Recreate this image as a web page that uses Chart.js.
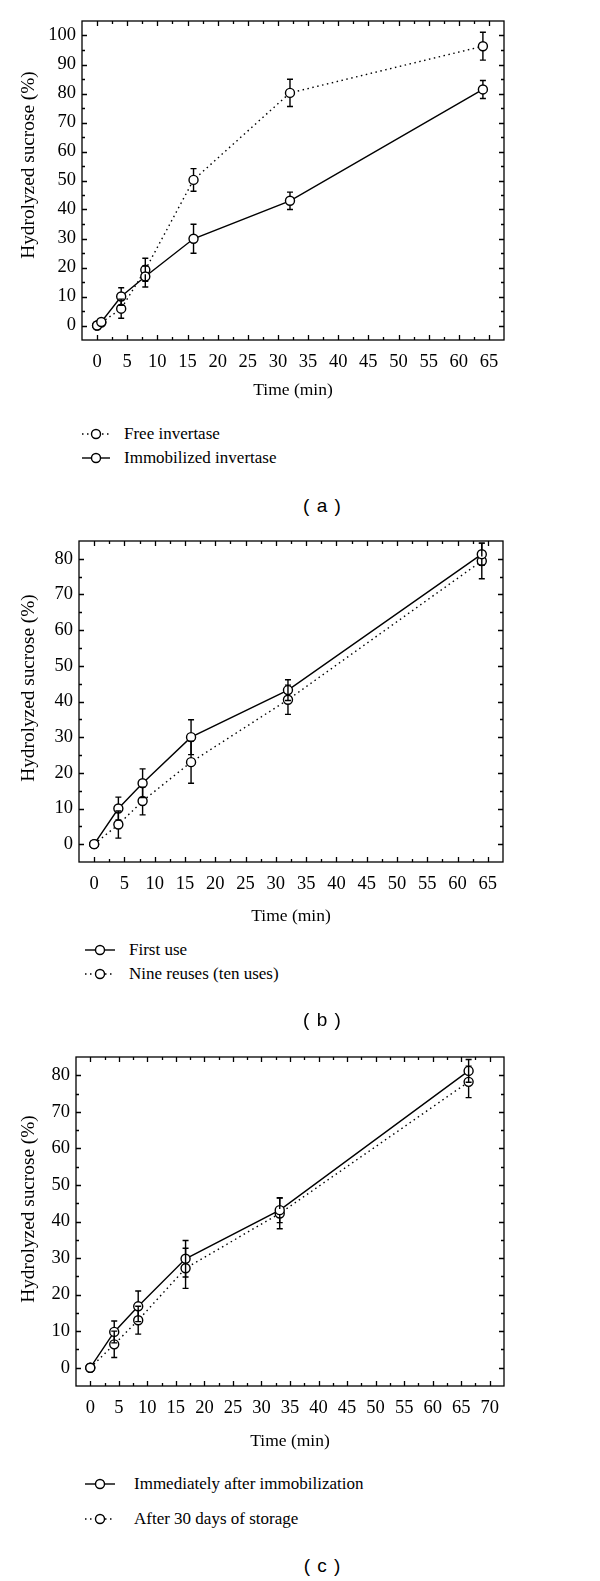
<!DOCTYPE html>
<html>
<head>
<meta charset="utf-8">
<script src="https://cdn.jsdelivr.net/npm/chart.js@4.4.0/dist/chart.umd.min.js"></script>
<style>
  html, body { margin:0; padding:0; background:#fff; }
  body { width:600px; height:1581px; position:relative; overflow:hidden; }
  canvas { position:absolute; left:0; }
  .leg { position:absolute; font-family:"Liberation Serif", serif; font-size:17px; color:#000; line-height:20px; white-space:nowrap; transform:translateY(-50%); }
  .sym { position:absolute; transform:translateY(-50%); }
  .cap { position:absolute; font-family:"Liberation Sans", Arial, sans-serif; font-size:19px; word-spacing:2px; color:#000; white-space:pre; transform:translate(-50%,-50%); line-height:22px; }
  .ytl { position:absolute; font-family:"Liberation Serif", serif; font-size:19.3px; color:#000; white-space:nowrap; line-height:22px; transform:translate(-50%,-50%) rotate(-90deg); }
</style>
</head>
<body>
<canvas id="ca" width="600" height="401" style="top:0px"></canvas>
<canvas id="cb" width="600" height="407" style="top:520px"></canvas>
<canvas id="cc" width="600" height="422" style="top:1030px"></canvas>

<script>
// ---------- DATA ----------
// Panel (a)
const aTime      = [0, 0.7, 4, 8, 16, 32, 64];
const aFree      = [0, 1.0, 5.8, 19.2, 50.2, 80.2, 96.3];
const aFreeErr   = [0, 0, 3.3, 4.0, 3.9, 4.7, 4.8];
const aImmob     = [0, 1.2, 10.0, 16.9, 29.9, 43.0, 81.4];
const aImmobErr  = [0, 0, 3.0, 3.6, 5.0, 3.0, 3.1];
const aXTicks    = [0,5,10,15,20,25,30,35,40,45,50,55,60,65];
const aYTicks    = [0,10,20,30,40,50,60,70,80,90,100];

// Panel (b)
const bTime      = [0, 4, 8, 16, 32, 64];
const bFirst     = [0, 10.0, 17.1, 30.0, 43.2, 81.3];
const bFirstErr  = [0, 3.2, 4.0, 4.9, 2.9, 3.1];
const bNine      = [0, 5.5, 12.1, 23.0, 40.5, 79.4];
const bNineErr   = [0, 3.8, 3.9, 5.9, 4.1, 5.0];
const bXTicks    = [0,5,10,15,20,25,30,35,40,45,50,55,60,65];
const bYTicks    = [0,10,20,30,40,50,60,70,80];

// Panel (c)
const cTime      = [0, 4.2, 8.4, 16.7, 33.2, 66.3];
const cImm       = [0, 9.8, 16.8, 29.8, 43.1, 81.2];
const cImmErr    = [0, 3.0, 4.2, 5.0, 3.4, 3.1];
const cStor      = [0, 6.4, 13.0, 27.2, 42.2, 78.2];
const cStorErr   = [0, 3.6, 3.8, 5.5, 4.2, 4.3];
const cXTicks    = [0,5,10,15,20,25,30,35,40,45,50,55,60,65,70];
const cYTicks    = [0,10,20,30,40,50,60,70,80];

const xTitle = 'Time (min)';
const yTitle = 'Hydrolyzed sucrose (%)';

// ---------- PLUGINS ----------
const MARK_R = 4.5;
const framePlugin = {
  id: 'frame',
  afterDatasetsDraw(chart) {
    const ctx = chart.ctx, xs = chart.scales.x, ys = chart.scales.y;
    ctx.save();
    ctx.strokeStyle = '#000';
    ctx.lineWidth = 1.4;
    ctx.setLineDash([]);
    chart.data.datasets.forEach(ds => {
      const errs = ds.errors || [];
      ds.data.forEach((p, i) => {
        const e = errs[i];
        if (!e) return;
        const px = xs.getPixelForValue(p.x);
        const py = ys.getPixelForValue(p.y);
        const top = ys.getPixelForValue(p.y + e);
        const bot = ys.getPixelForValue(p.y - e);
        ctx.beginPath();
        if (py - MARK_R > top) { ctx.moveTo(px, py - MARK_R); ctx.lineTo(px, top); }
        if (py + MARK_R < bot) { ctx.moveTo(px, py + MARK_R); ctx.lineTo(px, bot); }
        ctx.moveTo(px - 3, top); ctx.lineTo(px + 3, top);
        ctx.moveTo(px - 3, bot); ctx.lineTo(px + 3, bot);
        ctx.stroke();
      });
    });
    ctx.restore();
  },
  afterDraw(chart) {
    const ctx = chart.ctx, a = chart.chartArea, xs = chart.scales.x, ys = chart.scales.y;
    const xt = xs.ticks.map(t => t.value), yt = ys.ticks.map(t => t.value);
    const mids = arr => arr.slice(1).map((v, i) => (v + arr[i]) / 2);
    ctx.save();
    ctx.strokeStyle = '#000';
    ctx.lineWidth = 1.3;
    ctx.setLineDash([]);
    ctx.strokeRect(a.left, a.top, a.right - a.left, a.bottom - a.top);
    const MAJ = 5, MIN = 3;
    ctx.beginPath();
    const vx = (v, len) => {
      const p = Math.round(xs.getPixelForValue(v)) + 0.5;
      ctx.moveTo(p, a.bottom); ctx.lineTo(p, a.bottom - len);
      ctx.moveTo(p, a.top); ctx.lineTo(p, a.top + len);
    };
    const vy = (v, len) => {
      const p = Math.round(ys.getPixelForValue(v)) + 0.5;
      ctx.moveTo(a.left, p); ctx.lineTo(a.left + len, p);
      ctx.moveTo(a.right, p); ctx.lineTo(a.right - len, p);
    };
    xt.forEach(v => vx(v, MAJ));
    mids(xt).forEach(v => vx(v, MIN));
    yt.forEach(v => vy(v, MAJ));
    mids(yt).forEach(v => vy(v, MIN));
    ctx.stroke();
    ctx.restore();
  }
};

// ---------- CHART FACTORY ----------
const tickFont   = { family: 'Liberation Serif', size: 18.5 };
const xTitleFont = { family: 'Liberation Serif', size: 17.5 };

function series(times, vals, errs, dotted) {
  return {
    data: times.map((t, i) => ({ x: t, y: vals[i] })),
    errors: errs,
    borderColor: '#000',
    borderWidth: 1.4,
    borderDash: dotted ? [1.5, 3.5] : [],
    pointStyle: 'circle',
    pointRadius: MARK_R,
    pointBorderWidth: 1.4,
    pointBackgroundColor: '#fff',
    pointBorderColor: '#000',
    tension: 0,
    fill: false,
    clip: false
  };
}

function makeChart(id, p) {
  return new Chart(document.getElementById(id), {
    type: 'line',
    data: { datasets: p.datasets },
    options: {
      responsive: false,
      animation: false,
      events: [],
      layout: { padding: { top: p.padTop, right: 600 - p.right, left: 0, bottom: 0 } },
      plugins: { legend: { display: false }, tooltip: { enabled: false } },
      scales: {
        x: {
          type: 'linear', min: p.xMin, max: p.xMax,
          afterBuildTicks: s => { s.ticks = p.xTicks.map(v => ({ value: v })); },
          afterFit: s => { s.height = p.xH; },
          grid: { display: false, drawTicks: false },
          border: { display: false },
          ticks: { font: tickFont, color: '#000', padding: 11, autoSkip: false, maxRotation: 0 },
          title: { display: true, text: xTitle, font: xTitleFont, color: '#000', padding: 0 }
        },
        y: {
          type: 'linear', min: p.yMin, max: p.yMax,
          afterBuildTicks: s => { s.ticks = p.yTicks.map(v => ({ value: v })); },
          afterFit: s => { s.width = p.left; },
          grid: { display: false, drawTicks: false },
          border: { display: false },
          ticks: { font: tickFont, color: '#000', padding: 6, autoSkip: false },
          title: { display: false }
        }
      }
    },
    plugins: [framePlugin]
  });
}

makeChart('ca', {
  datasets: [series(aTime, aImmob, aImmobErr, false), series(aTime, aFree, aFreeErr, true)],
  left: 82, right: 504, padTop: 21, xH: 61,
  xMin: -2.5, xMax: 67.5, yMin: -5, yMax: 105, xTicks: aXTicks, yTicks: aYTicks
});
makeChart('cb', {
  datasets: [series(bTime, bFirst, bFirstErr, false), series(bTime, bNine, bNineErr, true)],
  left: 79, right: 503, padTop: 21, xH: 65,
  xMin: -2.5, xMax: 67.5, yMin: -5, yMax: 85, xTicks: bXTicks, yTicks: bYTicks
});
makeChart('cc', {
  datasets: [series(cTime, cImm, cImmErr, false), series(cTime, cStor, cStorErr, true)],
  left: 76, right: 504, padTop: 27, xH: 66,
  xMin: -2.5, xMax: 72.5, yMin: -5, yMax: 85, xTicks: cXTicks, yTicks: cYTicks
});

// ---------- TEXT: Y TITLES, LEGENDS & CAPTIONS ----------
function yTitleAt(x, y) {
  const d = document.createElement('div');
  d.className = 'ytl'; d.textContent = yTitle;
  d.style.left = x + 'px'; d.style.top = y + 'px';
  document.body.appendChild(d);
}
function legendItem(x0, w, tx, y, label, dotted) {
  const NS = 'http://www.w3.org/2000/svg';
  const svg = document.createElementNS(NS, 'svg');
  svg.setAttribute('width', w); svg.setAttribute('height', 14);
  svg.setAttribute('class', 'sym');
  svg.style.left = x0 + 'px'; svg.style.top = y + 'px';
  const ln = document.createElementNS(NS, 'line');
  ln.setAttribute('x1', 0); ln.setAttribute('x2', w);
  ln.setAttribute('y1', 7); ln.setAttribute('y2', 7);
  ln.setAttribute('stroke', '#000'); ln.setAttribute('stroke-width', 1.4);
  if (dotted) ln.setAttribute('stroke-dasharray', '1.5 3.5');
  const c = document.createElementNS(NS, 'circle');
  c.setAttribute('cx', w / 2); c.setAttribute('cy', 7); c.setAttribute('r', MARK_R);
  c.setAttribute('fill', '#fff'); c.setAttribute('stroke', '#000'); c.setAttribute('stroke-width', 1.4);
  svg.appendChild(ln); svg.appendChild(c);
  document.body.appendChild(svg);
  const d = document.createElement('div');
  d.className = 'leg'; d.textContent = label;
  d.style.left = tx + 'px'; d.style.top = y + 'px';
  document.body.appendChild(d);
}
function caption(text, x, y) {
  const d = document.createElement('div');
  d.className = 'cap'; d.textContent = text;
  d.style.left = x + 'px'; d.style.top = y + 'px';
  document.body.appendChild(d);
}

yTitleAt(28, 165);
legendItem(82, 28, 124, 434, 'Free invertase', true);
legendItem(82, 28, 124, 458, 'Immobilized invertase', false);
caption('( a )', 322, 506);

yTitleAt(28, 688);
legendItem(85, 30, 129, 950, 'First use', false);
legendItem(85, 30, 129, 974, 'Nine reuses (ten uses)', true);
caption('( b )', 322, 1020);

yTitleAt(28, 1209);
legendItem(85, 30, 134, 1484, 'Immediately after immobilization', false);
legendItem(85, 30, 134, 1519, 'After 30 days of storage', true);
caption('( c )', 322, 1566);
</script>
</body>
</html>
